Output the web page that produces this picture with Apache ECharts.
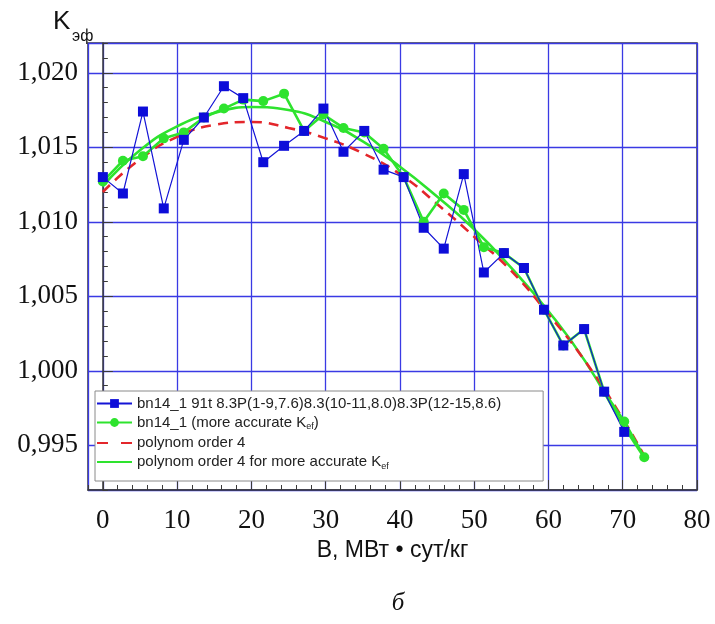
<!DOCTYPE html>
<html>
<head>
<meta charset="utf-8">
<script src="https://cdn.jsdelivr.net/npm/echarts@6/dist/echarts.min.js"></script>
<style>
html, body { margin: 0; padding: 0; background: #fff; }
#chart { width: 715px; height: 624px; }
</style>
</head>
<body>
<div id="chart"></div>
<script>
// burnup points, MWd/kg
var burnup = [0, 2.7, 5.4, 8.2, 10.9, 13.6, 16.3, 18.9, 21.6, 24.4, 27.1, 29.7, 32.4, 35.2,
	37.8, 40.5, 43.2, 45.9, 48.6, 51.3, 54.0, 56.7, 59.4, 62.0, 64.8, 67.5, 70.2, 72.9];
// bn14_1 (blue squares)
var kefBase = [1.0130, 1.0119, 1.0174, 1.0109, 1.0155, 1.0170, 1.0191, 1.0183, 1.0140, 1.0151,
	1.0161, 1.0176, 1.0147, 1.0161, 1.0135, 1.0130, 1.0096, 1.0082, 1.0132, 1.0066, 1.0079,
	1.0069, 1.0041, 1.0017, 1.0028, 0.9986, 0.9959];
// bn14_1 more accurate (green circles)
var kefAcc = [1.0127, 1.0141, 1.0144, 1.0156, 1.0160, 1.0170, 1.0176, 1.0182, 1.0181, 1.0186,
	1.0161, 1.0172, 1.0163, 1.0160, 1.0149, 1.0130, 1.0100, 1.0119, 1.0108, 1.0083, 1.0079,
	1.0069, 1.0041, 1.0017, 1.0028, 0.9986, 0.9966, 0.9942];
// fitted curves
var polyX = [0, 5, 10, 15, 20, 25, 30, 35, 40, 45, 50, 55, 60, 65, 70, 73];
var polyBase = [1.0120, 1.0142, 1.0157, 1.0165, 1.0167, 1.0163, 1.0156, 1.0146, 1.0132, 1.0112,
	1.0090, 1.0067, 1.0038, 1.0006, 0.9968, 0.9942];
var polyAcc = [1.0124, 1.0148, 1.0164, 1.0173, 1.0177, 1.0175, 1.0167, 1.0154, 1.0137, 1.0117,
	1.0095, 1.0069, 1.0040, 1.0006, 0.9964, 0.9941];

var names = ['bn14_1 91t 8.3P(1-9,7.6)8.3(10-11,8.0)8.3P(12-15,8.6)',
	'bn14_1 (more accurate Kef)', 'polynom order 4', 'polynom order 4 for more accurate Kef'];
var legendText = {};
legendText[names[0]] = '{a|' + names[0] + '}';
legendText[names[1]] = '{a|bn14_1 (more accurate K}{s|ef}{a|)}';
legendText[names[2]] = '{a|polynom order 4}';
legendText[names[3]] = '{a|polynom order 4 for more accurate K}{s|ef}';

function pairs(xs, ys) {
	var out = [];
	for (var i = 0; i < ys.length; i++) out.push([xs[i], ys[i]]);
	return out;
}

var serif = '"Liberation Serif", "Times New Roman", serif';
var sans = '"Liberation Sans", Arial, sans-serif';
var frame = '#3a3a3a';
var gridBlue = '#3a3ae4';

echarts.init(document.getElementById('chart')).setOption({
	backgroundColor: '#fff',
	animation: false,
	grid: {
		left: 88, right: 18, top: 43, bottom: 134,
		show: true, borderColor: frame, borderWidth: 1.5,
		backgroundColor: '#fff',
		outerBoundsMode: 'none'
	},
	xAxis: [{
		type: 'value', min: -2, max: 80, splitNumber: 8, position: 'bottom',
		name: 'B, МВт • сут/кг', nameLocation: 'middle', nameGap: 36,
		nameTextStyle: { fontFamily: sans, fontSize: 23, color: '#111' },
		axisLine: { show: true, lineStyle: { color: frame, width: 1.5 } },
		axisTick: { inside: true, length: 10, lineStyle: { color: frame } },
		axisLabel: {
			showMinLabel: false, margin: 17, fontFamily: serif, fontSize: 27, color: '#111',
			formatter: function(v) { return String(Math.round(v)); }
		},
		splitLine: { show: true, lineStyle: { color: gridBlue, width: 1.3 } }
	}, {
		// minor ticks
		type: 'value', min: -2, max: 80, interval: 2, position: 'bottom',
		axisLine: { show: false },
		axisTick: { inside: true, length: 5, lineStyle: { color: frame } },
		axisLabel: { show: false },
		splitLine: { show: false }
	}],
	yAxis: [{
		type: 'value', min: 0.992, max: 1.022, splitNumber: 6, position: 'left',
		axisLine: { show: true, lineStyle: { color: frame, width: 1.5 } },
		axisTick: { inside: true, length: 10, lineStyle: { color: frame } },
		axisLabel: {
			showMinLabel: false, showMaxLabel: false, margin: 10,
			fontFamily: serif, fontSize: 27, color: '#111',
			formatter: function(v) { return v.toFixed(3).replace('.', ','); }
		},
		splitLine: { show: true, lineStyle: { color: gridBlue, width: 1.3 } }
	}, {
		type: 'value', min: 0.992, max: 1.022, interval: 0.001, position: 'left',
		axisLine: { show: false },
		axisTick: { inside: true, length: 5, lineStyle: { color: frame } },
		axisLabel: { show: false },
		splitLine: { show: false }
	}],
	legend: {
		orient: 'vertical', left: 95, top: 391,
		data: [
			{ name: names[0] },
			{ name: names[1] },
			{ name: names[2], itemStyle: { opacity: 0 }, lineStyle: { type: [11, 13] } },
			{ name: names[3], itemStyle: { opacity: 0 } }
		],
		itemWidth: 35, itemHeight: 11, itemGap: 4,
		padding: [5, 42, 10, 1],
		backgroundColor: '#fff', borderColor: '#8a8a8a', borderWidth: 1,
		formatter: function(n) { return legendText[n]; },
		textStyle: {
			color: '#222',
			rich: {
				a: { fontFamily: sans, fontSize: 15, color: '#222' },
				s: { fontFamily: sans, fontSize: 9, color: '#222', verticalAlign: 'bottom', padding: [9, 0, 0, 0] }
			}
		}
	},
	graphic: [
		{ type: 'text', left: 53, top: 9, style: { text: 'K', font: '26px ' + sans, fill: '#111' } },
		{ type: 'text', left: 72, top: 29, style: { text: 'эф', font: '16px ' + sans, fill: '#111' } },
		{ type: 'text', x: 398, y: 603, style: { text: 'б', font: 'italic 25px ' + serif, fill: '#111', align: 'center', verticalAlign: 'middle' } }
	],
	series: [{
		name: names[3], type: 'line', smooth: true, symbol: 'none',
		lineStyle: { color: '#2ee32e', width: 2.6 }, itemStyle: { color: '#2ee32e' },
		data: pairs(polyX, polyAcc)
	}, {
		name: names[2], type: 'line', smooth: true, symbol: 'none',
		lineStyle: { color: '#e3262b', width: 2.6, type: [10, 7] }, itemStyle: { color: '#e3262b' },
		data: pairs(polyX, polyBase)
	}, {
		name: names[1], type: 'line', symbol: 'circle', symbolSize: 10,
		lineStyle: { color: '#2ee32e', width: 2.6 }, itemStyle: { color: '#2ee32e' },
		data: pairs(burnup, kefAcc)
	}, {
		name: names[0], type: 'line', symbol: 'rect', symbolSize: 10,
		lineStyle: { color: '#1414d6', width: 1.2 }, itemStyle: { color: '#0d0dd9' },
		data: pairs(burnup, kefBase)
	}]
});
</script>
</body>
</html>
